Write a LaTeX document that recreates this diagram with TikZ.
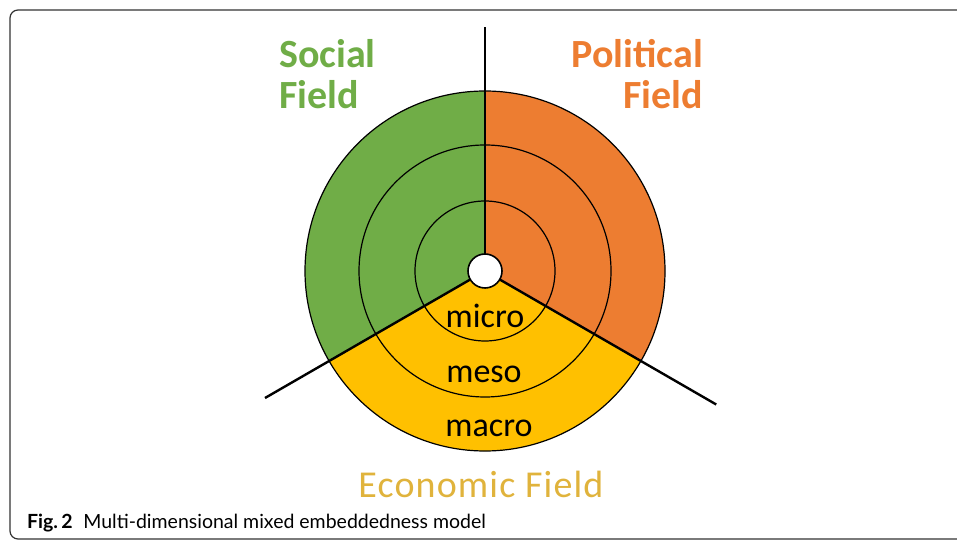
\documentclass[tikz,border=0pt]{standalone}
\usepackage{fontspec}
\usetikzlibrary{calc}
\newfontfamily\diagfont{Carlito}
\newfontfamily\spacedfont{Carlito}[LetterSpace=3]
\newfontfamily\capfont{Lato}
\definecolor{socialgreen}{HTML}{70AD47}
\definecolor{politicalorange}{HTML}{ED7D31}
\definecolor{economicyellow}{HTML}{FFC000}
\definecolor{economictext}{HTML}{E0B33C}
\definecolor{framegray}{HTML}{333333}
\begin{document}
\begin{tikzpicture}[x=1pt,y=1pt,
  ring/.style={draw=black,line width=1.2pt},
  spoke/.style={draw=black,line width=2.4pt},
  fieldlabel/.style={font=\diagfont\bfseries\fontsize{40}{48}\selectfont,inner sep=0pt},
  levellabel/.style={font=\diagfont\fontsize{34}{40}\selectfont,inner sep=0pt,anchor=base},
]
\useasboundingbox (0,0) rectangle (957,540);
% outer frame
\draw[framegray,line width=1.2pt,rounded corners=8pt] (10,1) rectangle (990,530);

\coordinate (c) at (485,269);
% three sectors
\fill[socialgreen] (c) -- ++(90:180) arc[start angle=90,end angle=210,radius=180] -- cycle;
\fill[economicyellow] (c) -- ++(210:180) arc[start angle=210,end angle=330,radius=180] -- cycle;
\fill[politicalorange] (c) -- ++(330:180) arc[start angle=-30,end angle=90,radius=180] -- cycle;
% level rings
\draw[ring] (c) circle[radius=70];
\draw[ring] (c) circle[radius=126];
\draw[ring] (c) circle[radius=180];
% field boundaries
\coordinate (topend) at ($(c)+(90:244)$);
\coordinate (leftend) at ($(c)+(210:254)$);
\coordinate (rightend) at ($(c)+(330:267)$);
\draw[spoke] ($(c)+(90:17)$) -- (topend);
\draw[spoke] ($(c)+(210:17)$) -- (leftend);
\draw[spoke] ($(c)+(330:17)$) -- (rightend);
% centre hole
\node[circle,fill=white,draw=black,line width=1.6pt,minimum size=34pt,inner sep=0pt] (hole) at (c) {};

% level labels
\node[levellabel] (micro) at (485,212) {micro};
\node[levellabel] (meso) at (484,157) {meso};
\node[levellabel] (macro) at (489,103) {macro};

% field labels
\node[fieldlabel,socialgreen,anchor=base west] (social) at (279,472) {Social};
\node[fieldlabel,socialgreen,anchor=base west] (socialf) at (279,431) {Field};
\node[fieldlabel,politicalorange,anchor=base east] (political) at (703,472) {Political};
\node[fieldlabel,politicalorange,anchor=base east] (politicalf) at (703,431) {Field};
\node[font=\spacedfont\fontsize{38}{44}\selectfont,economictext,inner sep=0pt,anchor=base] (economic) at (481,42) {Economic Field};

% caption
\node[font=\capfont\fontsize{19.5}{22}\selectfont,anchor=base west,inner sep=0pt] (caption) at (27,11) {{\fontseries{b}\selectfont Fig.\,2}\hspace{0.55em}Multi-dimensional mixed embeddedness model};
\end{tikzpicture}
\end{document}
